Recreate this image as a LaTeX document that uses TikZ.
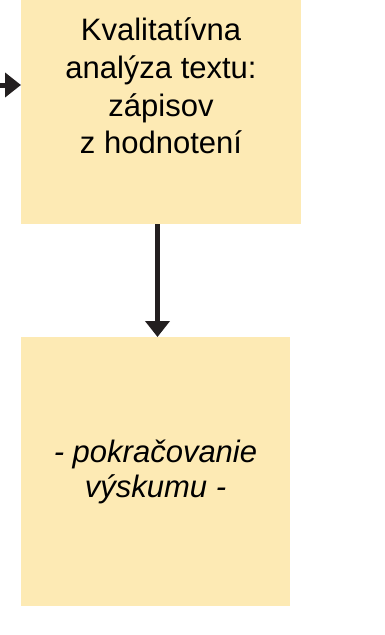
\documentclass[tikz,border=0pt]{standalone}
\usepackage{fontspec}
\setmainfont{Liberation Sans}
\usetikzlibrary{arrows.meta}
\definecolor{boxfill}{HTML}{FDEAB4}
\definecolor{arrowcol}{HTML}{231F20}
\tikzset{
  box/.style={rectangle, fill=boxfill, draw=none, inner sep=0pt, anchor=north west},
  txt/.style={align=center, inner sep=0pt, text=black},
  arr/.style={draw=arrowcol, line width=5pt, -{Triangle[width=24pt,length=16pt]}}
}
\begin{document}
\begin{tikzpicture}[x=1pt,y=-1pt]
\useasboundingbox (0,0) rectangle (384,635);
\node[box, minimum width=280pt, minimum height=224pt] (top) at (21,0) {};
\node[box, minimum width=269pt, minimum height=269pt] (bot) at (21,337) {};
\node[txt, font=\fontsize{31}{37.7}\selectfont] (toptext) at (161,86) {Kvalitatívna\\analýza textu:\\zápisov\\z hodnotení};
\node[txt, font=\fontsize{31}{35.5}\selectfont\itshape] (bottext) at (155.5,472) {- pokračovanie\\výskumu -};
\coordinate (in) at (0,85);
\draw[arr] (in) -- (in -| top.west);
\draw[arr] (top.south -| 157.5,0) -- (bot.north -| 157.5,0);
\end{tikzpicture}
\end{document}
